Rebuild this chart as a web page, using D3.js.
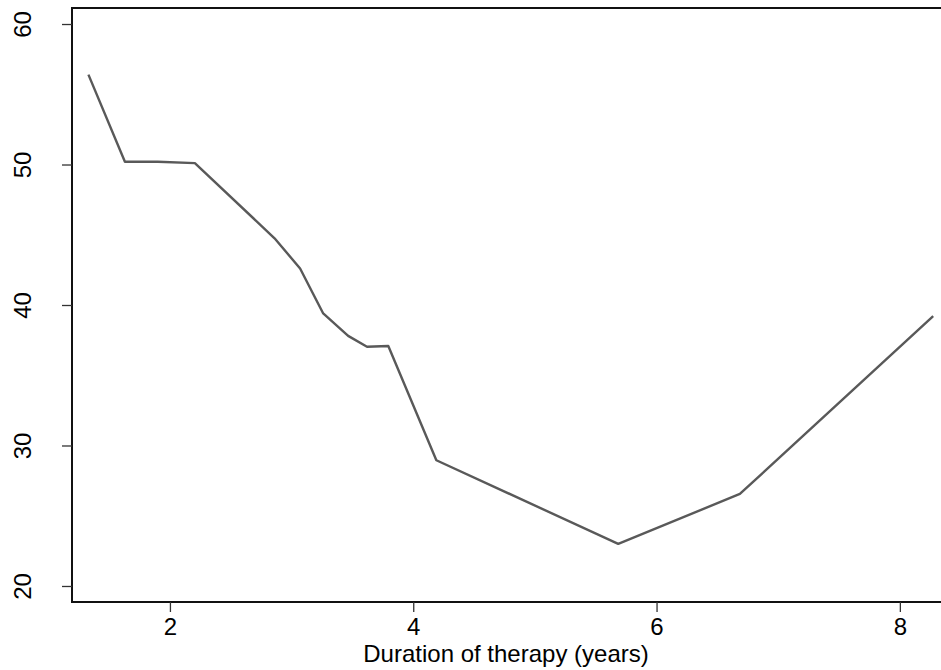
<!DOCTYPE html>
<html>
<head>
<meta charset="utf-8">
<script src="https://cdn.jsdelivr.net/npm/d3@7"></script>
<style>
  body { margin: 0; background: #fff; }
  svg { display: block; font-family: "Liberation Sans", Arial, sans-serif; }
</style>
</head>
<body>
<svg id="chart" width="941" height="670"></svg>
<script>
// values
var duration = [1.33, 1.63, 1.9, 2.205, 2.86, 3.07, 3.26, 3.465, 3.62, 3.795, 4.19, 5.685, 6.685, 8.274];
var outcome  = [56.4, 50.2, 50.2, 50.1, 44.75, 42.6, 39.4, 37.8, 37.03, 37.08, 28.95, 23.0, 26.55, 39.2];
var xTicks = [2, 4, 6, 8];
var yTicks = [20, 30, 40, 50, 60];
var xTitle = "Duration of therapy (years)";

var svg = d3.select("#chart"),
    plotLeft = 72, plotRight = 940, plotTop = 8, plotBottom = 602,
    fontSize = 24;

var x = d3.scaleLinear().domain([1.195, 8.33]).range([plotLeft, plotRight]);
var y = d3.scaleLinear().domain([18.86, 61.14]).range([plotBottom, plotTop]);

// frame: left, top, bottom (right side falls off the page)
svg.append("path")
  .attr("d", "M" + (plotRight + 2) + "," + plotTop + "H" + plotLeft + "V" + plotBottom + "H" + (plotRight + 2))
  .attr("fill", "none")
  .attr("stroke", "#111")
  .attr("stroke-width", 2);

// x axis
var xa = svg.append("g").attr("transform", "translate(0," + plotBottom + ")")
  .call(d3.axisBottom(x).tickValues(xTicks).tickSize(10).tickPadding(6).tickFormat(d3.format("d")));
xa.select(".domain").remove();
xa.selectAll("line").attr("stroke", "#333").attr("stroke-width", 1.3);
xa.selectAll("text").attr("font-size", fontSize).attr("fill", "#000")
  .attr("font-family", "Liberation Sans, Arial, sans-serif");

// y axis with rotated labels
var ya = svg.append("g").attr("transform", "translate(" + plotLeft + ",0)")
  .call(d3.axisLeft(y).tickValues(yTicks).tickSize(10).tickFormat(d3.format("d")));
ya.select(".domain").remove();
ya.selectAll("line").attr("stroke", "#333").attr("stroke-width", 1.3);
ya.selectAll("text")
  .attr("x", null).attr("dy", null)
  .attr("transform", "translate(-50,0) rotate(-90)")
  .attr("text-anchor", "middle")
  .attr("dominant-baseline", "central")
  .attr("font-size", fontSize).attr("fill", "#000")
  .attr("font-family", "Liberation Sans, Arial, sans-serif");

// x title
svg.append("text")
  .attr("x", (plotLeft + plotRight) / 2)
  .attr("y", 662)
  .attr("text-anchor", "middle")
  .attr("font-size", fontSize)
  .text(xTitle);

// the curve
var line = d3.line()
  .x(function (d, i) { return x(duration[i]); })
  .y(function (d) { return y(d); });

svg.append("path")
  .datum(outcome)
  .attr("d", line)
  .attr("fill", "none")
  .attr("stroke", "#595959")
  .attr("stroke-width", 2.4)
  .attr("stroke-linejoin", "round");
</script>
</body>
</html>
